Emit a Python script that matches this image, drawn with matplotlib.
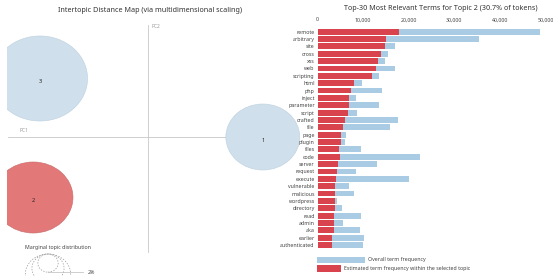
import numpy as np
import matplotlib
matplotlib.use("Agg")
from matplotlib import pyplot as plt
from matplotlib.patches import Circle, Rectangle

plt.rcParams['font.family'] = ['Noto Sans', 'DejaVu Sans']

# topics on the intertopic map (PC units) and their share of tokens (%)
topic_ids = ['1', '2', '3']
pc1 = [0.205, -0.205, -0.193]
pc2 = [0.000, -0.121, 0.117]
share = [26.5, 30.7, 44.0]
selected = '2'

# top-30 terms for the selected topic
terms = ['remote', 'arbitrary', 'site', 'cross', 'xss', 'web', 'scripting', 'html', 'php',
         'inject', 'parameter', 'script', 'crafted', 'file', 'page', 'plugin', 'files',
         'code', 'server', 'request', 'execute', 'vulnerable', 'malicious', 'wordpress',
         'directory', 'read', 'admin', 'aka', 'earlier', 'authenticated']
overall = [48700, 35500, 17100, 15500, 14800, 17000, 13500, 9800, 14100, 8400,
           13500, 8700, 17600, 15900, 6200, 6100, 9600, 22500, 13100, 8400,
           20000, 6900, 8000, 4200, 5400, 9500, 5700, 9300, 10200, 9900]
in_topic = [17900, 15000, 14800, 13900, 13300, 12800, 11900, 8000, 7300, 7000,
            6900, 6700, 6100, 5700, 5200, 5100, 4800, 4900, 4600, 4300,
            4100, 3900, 3900, 3900, 3800, 3600, 3600, 3600, 3200, 3200]
xticks = [0, 10000, 20000, 30000, 40000, 50000]
leg_pct = [2, 5, 10]

W, H = 553, 276
fig = plt.figure(figsize=(W / 100, H / 100), dpi=100)

blue_c = '#cfe0ec'
red_c = '#e27878'
bar_blue = '#a9cbe3'
bar_red = '#d8434d'
grey_txt = '#444444'

# ---- intertopic distance map ----
sx, sy = 560.0, 500.0  # px per PC unit (picture is a bit stretched sideways)
ox, oy = 148, 137       # pixel position of the origin
mx0, mx1 = 7, 300
ax_map = fig.add_axes([mx0 / W, 0, (mx1 - mx0) / W, 1])
ax_map.set_xlim((mx0 - ox) / sx, (mx1 - ox) / sx)
ax_map.set_ylim(-(H - oy) / sy, oy / sy)
ax_map.axis('off')
ax_map.set_zorder(0)

ax_map.plot([(8 - ox) / sx, (275 - ox) / sx], [0, 0], color='#c8c8c8', lw=0.6, zorder=1)
ax_map.plot([0, 0], [-(252 - oy) / sy, (oy - 25) / sy], color='#c8c8c8', lw=0.6, zorder=1)
ax_map.text(3 / sx, (oy - 27) / sy, 'PC2', fontsize=3.5, color='#999999', ha='left', va='center')
ax_map.text((20 - ox) / sx, 6 / sy, 'PC1', fontsize=3.5, color='#999999', ha='left', va='center')

k = 64.1 / sy  # radius per sqrt(share), in PC units
for t, x, y, s in zip(topic_ids, pc1, pc2, share):
    r = k * np.sqrt(s / 100)
    fc = red_c if t == selected else blue_c
    ec = '#c96a6a' if t == selected else '#bcd0de'
    ax_map.add_patch(Circle((x, y), r, facecolor=fc, edgecolor=ec, lw=0.4, zorder=2))
    ax_map.text(x, y - 3 / sy, t, fontsize=4, fontweight='bold', color='#222222',
                ha='center', va='center', zorder=3)

# marginal topic distribution legend: circles hang from a common top line
top_leg = (oy - 254) / sy
cx = (48 - ox) / sx
for p in leg_pct:
    r = k * np.sqrt(p / 100)
    ax_map.add_patch(Circle((cx, top_leg - r), r, facecolor='none', edgecolor='#999999',
                            lw=0.5, ls=(0, (2, 2)), zorder=2))
r_small = k * np.sqrt(leg_pct[0] / 100)
cx2 = (83 - ox) / sx
ax_map.plot([cx, cx2], [top_leg - 2 * r_small] * 2, color='#bbbbbb', lw=0.5)
ax_map.text(cx2 + 5 / sx, top_leg - 2 * r_small, f'{leg_pct[0]}%', fontsize=3.8, color=grey_txt,
            va='center')
ax_map.text((58 - ox) / sx, -(247 - oy) / sy, 'Marginal topic distribution', fontsize=3.8,
            color=grey_txt, ha='center', va='center')

# ---- bar chart ----
top, bot = 28.0, 248.7
bx0, bx1 = 317.5, 545.5
ax = fig.add_axes([bx0 / W, 1 - bot / H, (bx1 - bx0) / W, (bot - top) / H])
ax.set_zorder(2)
ax.patch.set_alpha(0)
ypos = np.arange(len(terms))
ax.barh(ypos, overall, height=0.8, color=bar_blue, edgecolor='none')
ax.barh(ypos, in_topic, height=0.8, color=bar_red, edgecolor='none')
ax.set_xlim(0, 50000)
ax.set_ylim(len(terms) - 0.5, -0.5)
ax.set_yticks(ypos)
ax.set_yticklabels(terms, fontsize=3.8, color=grey_txt)
ax.xaxis.tick_top()
ax.set_xticks(xticks)
ax.set_xticklabels([f'{v:,}' for v in xticks], fontsize=3.8, color=grey_txt)
ax.tick_params(length=0, pad=2)
ax.tick_params(axis='x', pad=4)
for sp in ax.spines.values():
    sp.set_visible(False)

# ---- overlay for titles and bar legend (pixel coords) ----
ov = fig.add_axes([0, 0, 1, 1])
ov.set_xlim(0, W)
ov.set_ylim(H, 0)
ov.axis('off')
ov.set_zorder(3)
ov.patch.set_alpha(0)
ov.text(150, 10, 'Intertopic Distance Map (via multidimensional scaling)', fontsize=5.2,
        color='#333333', ha='center', va='center')
ov.text(441, 8, 'Top-30 Most Relevant Terms for Topic 2 (30.7% of tokens)', fontsize=5.2,
        color='#333333', ha='center', va='center')
ov.add_patch(Rectangle((317, 256.5), 48, 6.5, facecolor=bar_blue, edgecolor='none'))
ov.add_patch(Rectangle((317, 265), 24, 6.5, facecolor=bar_red, edgecolor='none'))
ov.text(368, 259.7, 'Overall term frequency', fontsize=3.8, color=grey_txt, va='center')
ov.text(344, 268.2, 'Estimated term frequency within the selected topic', fontsize=3.8,
        color=grey_txt, va='center')

fig.savefig('out.png', dpi=100)
